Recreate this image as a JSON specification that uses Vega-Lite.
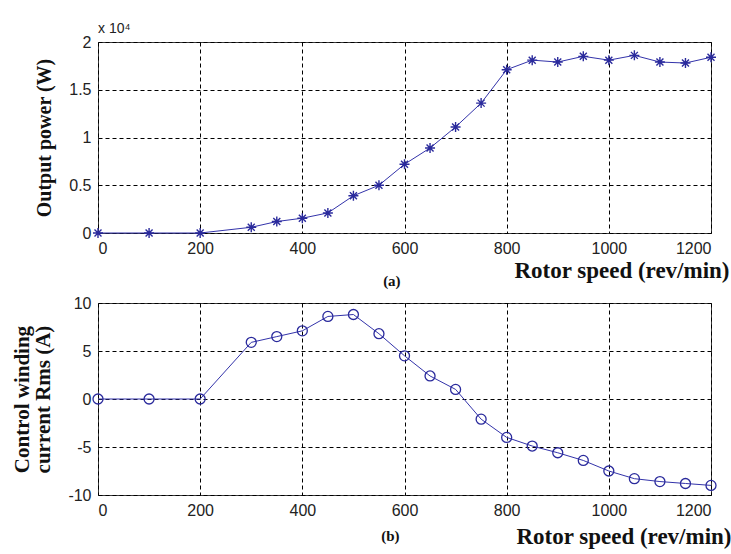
{
  "$schema": "https://vega.github.io/schema/vega-lite/v6.json",
  "background": "white",
  "padding": {"left": 11, "top": 21, "right": 3, "bottom": 5},
  "spacing": 5,
  "datasets": {
    "power": [
      {"speed": 0, "power": 0}, {"speed": 100, "power": 0}, {"speed": 200, "power": 0},
      {"speed": 300, "power": 600}, {"speed": 350, "power": 1200}, {"speed": 400, "power": 1550},
      {"speed": 450, "power": 2100}, {"speed": 500, "power": 3900}, {"speed": 550, "power": 5000},
      {"speed": 600, "power": 7200}, {"speed": 650, "power": 8900}, {"speed": 700, "power": 11100},
      {"speed": 750, "power": 13600}, {"speed": 800, "power": 17100}, {"speed": 850, "power": 18100},
      {"speed": 900, "power": 17900}, {"speed": 950, "power": 18500}, {"speed": 1000, "power": 18100},
      {"speed": 1050, "power": 18600}, {"speed": 1100, "power": 17900}, {"speed": 1150, "power": 17800},
      {"speed": 1200, "power": 18400}
    ],
    "current": [
      {"speed": 0, "current": 0}, {"speed": 100, "current": 0}, {"speed": 200, "current": 0},
      {"speed": 300, "current": 5.9}, {"speed": 350, "current": 6.5}, {"speed": 400, "current": 7.1},
      {"speed": 450, "current": 8.6}, {"speed": 500, "current": 8.8}, {"speed": 550, "current": 6.8},
      {"speed": 600, "current": 4.5}, {"speed": 650, "current": 2.4}, {"speed": 700, "current": 1.0},
      {"speed": 750, "current": -2.1}, {"speed": 800, "current": -4.0}, {"speed": 850, "current": -4.9},
      {"speed": 900, "current": -5.6}, {"speed": 950, "current": -6.4}, {"speed": 1000, "current": -7.5},
      {"speed": 1050, "current": -8.3}, {"speed": 1100, "current": -8.6}, {"speed": 1150, "current": -8.8},
      {"speed": 1200, "current": -9.0}
    ]
  },
  "vconcat": [
    {
      "title": {"text": "(a)", "orient": "bottom", "anchor": "middle", "font": "Liberation Serif", "fontWeight": "bold", "fontSize": 15, "color": "#111", "offset": -9, "dx": 10},
      "vconcat": [
        {
          "width": 613,
          "height": 191,
          "title": {"text": "x 10⁴", "orient": "top", "anchor": "start", "frame": "group", "font": "Liberation Sans", "fontSize": 14, "fontWeight": "normal", "color": "#222", "offset": -2},
          "data": {"name": "power"},
          "encoding": {
            "x": {"field": "speed", "type": "quantitative", "scale": {"domain": [0, 1200], "nice": false},
                  "axis": {"values": [0, 200, 400, 600, 800, 1000, 1200], "labelExpr": "'' + datum.value", "title": "Rotor speed (rev/min)", "titleFontSize": 23, "titleX": 631, "titleY": 44, "titleAlign": "right", "titleBaseline": "alphabetic"}},
            "y": {"field": "power", "type": "quantitative", "scale": {"domain": [0, 20000], "nice": false},
                  "axis": {"values": [0, 5000, 10000, 15000, 20000], "labelExpr": "'' + (datum.value / 10000)", "title": "Output power (W)", "titleFontSize": 20}}
          },
          "layer": [
            {"mark": {"type": "line", "color": "#3333aa", "strokeWidth": 1}},
            {"mark": {"type": "point", "shape": "M-1,0L1,0M0,-1L0,1M-0.7,-0.7L0.7,0.7M-0.7,0.7L0.7,-0.7", "size": 100, "filled": false, "strokeWidth": 1.4, "color": "#2a2a9c", "opacity": 1}}
          ]
        }
      ]
    },
    {
      "title": {"text": "(b)", "orient": "bottom", "anchor": "middle", "font": "Liberation Serif", "fontWeight": "bold", "fontSize": 15, "color": "#111", "offset": -20, "dx": 19},
      "vconcat": [
        {
          "width": 613,
          "height": 192,
          "data": {"name": "current"},
          "encoding": {
            "x": {"field": "speed", "type": "quantitative", "scale": {"domain": [0, 1200], "nice": false},
                  "axis": {"values": [0, 200, 400, 600, 800, 1000, 1200], "labelExpr": "'' + datum.value", "title": "Rotor speed (rev/min)", "titleFontSize": 23, "titleX": 633, "titleY": 48, "titleAlign": "right", "titleBaseline": "alphabetic"}},
            "y": {"field": "current", "type": "quantitative", "scale": {"domain": [-10, 10], "nice": false},
                  "axis": {"values": [-10, -5, 0, 5, 10], "labelExpr": "'' + datum.value", "title": ["Control winding", "current Rms (A)"], "titleFontSize": 21, "titleLineHeight": 21}}
          },
          "layer": [
            {"mark": {"type": "line", "color": "#3333aa", "strokeWidth": 1}},
            {"mark": {"type": "point", "shape": "circle", "size": 100, "filled": false, "strokeWidth": 1.3, "color": "#2a2a9c", "opacity": 1}}
          ]
        }
      ]
    }
  ],
  "config": {
    "view": {"stroke": "#3a3a3a", "strokeWidth": 1},
    "axis": {
      "grid": true, "gridColor": "#000", "gridDash": [4, 3], "gridOpacity": 1, "gridWidth": 1,
      "domain": false, "ticks": false, "labelPadding": 7,
      "labelFont": "Liberation Sans", "labelFontSize": 16, "labelColor": "#222",
      "titleFont": "Liberation Serif", "titleFontWeight": "bold", "titleColor": "#111",
      "titlePadding": 14
    }
  }
}
